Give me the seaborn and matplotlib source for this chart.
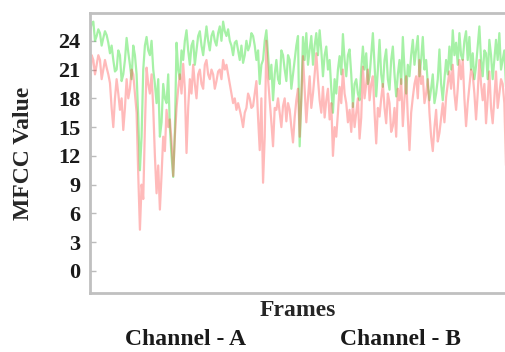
import numpy as np
import pandas as pd
import matplotlib
matplotlib.use("Agg")
import matplotlib.pyplot as plt
import seaborn as sns

channel_a = [25.0, 25.8, 26.0, 24.0, 24.5, 25.2, 24.8, 23.5, 24.3, 25.0,
             24.6, 23.8, 22.7, 23.5, 22.0, 20.8, 21.0, 23.0, 22.5, 19.8,
             20.5, 22.0, 24.3, 22.8, 21.5, 20.0, 23.5, 22.5, 20.5, 16.0,
             10.5, 14.0, 21.0, 23.5, 24.4, 23.0, 22.5, 24.0, 21.0, 19.5,
             17.5, 20.0, 14.0, 15.5, 19.5, 18.0, 17.5, 20.5, 15.0, 12.0,
             9.8, 14.5, 23.8, 21.0, 20.0, 23.0, 22.0, 24.0, 25.1, 23.0,
             21.5, 23.5, 24.0, 21.5, 23.0, 24.5, 25.0, 23.5, 22.5, 24.0,
             25.5, 24.0, 23.0, 24.5, 25.0, 24.0, 23.5, 24.8, 25.5, 24.0,
             26.0, 25.0, 24.5, 25.2, 24.0, 23.5, 22.5, 23.8, 24.0, 23.0,
             22.0, 23.5, 21.7, 22.5, 24.0, 23.0, 23.5, 24.8, 24.5, 23.5,
             22.0, 23.0, 19.5, 21.5, 22.0, 24.0, 25.1, 22.5, 20.0, 21.5,
             17.8, 20.5, 22.0, 20.0, 19.5, 23.0, 22.5, 21.0, 19.8, 22.5,
             22.0, 19.0, 20.5, 22.0, 23.5, 24.5, 13.0, 18.0, 24.4, 22.0,
             24.8, 21.5, 23.1, 24.5, 21.5, 23.5, 24.8, 22.5, 25.1, 23.0,
             20.3, 22.5, 23.4, 21.0, 22.0, 19.0, 16.5, 20.0, 18.5, 21.0,
             22.4, 20.5, 24.7, 22.0, 20.3, 22.5, 23.1, 20.5, 17.1, 19.5,
             20.0, 18.5, 17.8, 21.0, 23.4, 21.0, 22.7, 19.5, 20.3, 22.5,
             24.8, 21.5, 18.2, 21.0, 24.1, 20.5, 19.2, 22.0, 23.1, 20.0,
             18.9, 22.0, 23.4, 20.5, 18.2, 20.5, 22.0, 19.5, 24.4, 21.0,
             18.5, 21.5, 20.3, 22.5, 24.1, 21.5, 23.1, 24.5, 20.3, 22.0,
             24.4, 21.0, 22.0, 19.5, 17.8, 19.0, 20.5, 17.5, 18.5, 20.0,
             23.1, 19.5, 17.8, 20.0, 22.0, 20.5, 23.4, 21.0, 25.1, 22.5,
             23.8, 21.5, 24.8, 22.5, 22.0, 24.0, 25.0, 22.0, 24.4, 21.0,
             22.7, 20.0, 21.4, 23.5, 25.5, 22.0, 20.3, 23.0, 22.7, 20.0,
             24.1, 22.5, 20.0, 22.0, 24.1, 22.0, 24.8, 21.0, 22.0, 23.0,
             19.2]

channel_b = [19.0, 22.5, 22.0, 20.5, 21.5, 22.5, 22.0, 20.0, 21.0, 22.0,
             21.2, 20.5, 19.6, 17.0, 15.0, 18.0, 20.0, 18.5, 16.8, 18.0,
             14.7, 17.0, 20.0, 18.0, 19.0, 21.0, 20.5, 18.5, 16.5, 10.0,
             4.3, 9.0, 7.5, 15.0, 21.2, 19.5, 18.5, 20.5, 17.0, 12.0,
             8.1, 11.0, 6.4, 10.0, 14.0, 12.5, 16.8, 15.0, 15.8, 13.5,
             9.9, 14.0, 17.0, 19.0, 20.5, 18.5, 21.6, 19.0, 12.3, 17.0,
             20.0, 18.5, 21.5, 19.5, 18.0, 20.5, 21.0, 19.5, 19.0, 21.5,
             22.0, 20.5, 20.0, 21.0, 20.5, 19.0, 19.8, 20.8, 21.0, 20.0,
             22.0, 21.0, 21.5, 20.5, 19.5, 18.5, 17.5, 18.0, 16.8, 17.5,
             16.8, 16.0, 15.0, 16.5, 17.0, 18.5, 18.0, 17.0, 17.2, 18.5,
             19.8, 16.0, 12.6, 18.0, 9.2, 14.0, 24.0, 20.0, 17.8, 15.5,
             13.0, 17.0, 16.8, 18.0, 16.5, 15.0, 17.2, 18.0, 15.6, 17.5,
             16.8, 15.0, 13.4, 16.0, 17.8, 19.0, 14.0, 18.0, 22.4, 19.0,
             15.5, 18.0, 20.3, 17.0, 18.5, 20.5, 22.7, 20.0, 17.8, 16.5,
             19.2, 16.0, 17.8, 19.0, 15.8, 17.5, 12.0, 15.0, 14.0, 16.5,
             19.2, 17.5, 21.0, 18.5, 17.5, 15.5, 16.8, 14.5, 17.5, 15.0,
             16.5, 18.0, 13.8, 16.0, 21.3, 18.0, 19.5, 21.0, 17.8, 19.5,
             20.3, 16.5, 13.3, 17.0, 16.1, 18.0, 19.5, 17.0, 15.4, 18.5,
             17.5, 14.5, 15.1, 17.0, 14.0, 19.0, 17.8, 20.0, 15.1, 18.0,
             20.3, 16.0, 12.6, 16.5, 18.1, 19.5, 20.3, 18.0, 22.0, 19.5,
             20.3, 17.5, 18.5, 20.0, 16.5, 14.0, 12.5, 15.0, 16.8, 13.5,
             14.4, 16.0, 17.5, 15.5, 18.1, 19.5, 20.8, 19.0, 21.5, 18.5,
             16.8, 19.0, 22.0, 20.0, 22.0, 18.0, 15.1, 17.5, 19.2, 21.0,
             20.5, 18.5, 15.8, 18.5, 22.0, 19.5, 17.8, 19.5, 15.4, 18.0,
             20.8, 17.0, 15.4, 18.0, 20.8, 17.0, 18.5, 20.0, 19.5, 17.5,
             11.0]

labels = ["Channel - A", "Channel - B"]
yticks = [0, 3, 6, 9, 12, 15, 18, 21, 24]

frames = np.arange(len(channel_a))
df = pd.DataFrame({
    "Frames": np.concatenate([frames, frames]),
    "MFCC Value": channel_a + channel_b,
    "Channel": [labels[0]] * len(channel_a) + [labels[1]] * len(channel_b),
})

sns.set_style("white")
plt.rcParams["font.family"] = ["Liberation Serif", "DejaVu Serif"]
plt.rcParams["font.weight"] = "bold"
plt.rcParams["text.color"] = "#1a1a1a"

fig = plt.figure(figsize=(5.06, 3.52), dpi=100)
ax = fig.add_axes([90/506, 1-293/352, 1-90/506, (293-13)/352])

sns.lineplot(data=df[df.Channel == labels[0]], x="Frames", y="MFCC Value",
             color="#22dd22", alpha=0.4, lw=1.6, ax=ax, label=labels[0])
sns.lineplot(data=df[df.Channel == labels[1]], x="Frames", y="MFCC Value",
             color="#ff2a2a", alpha=0.32, lw=1.6, ax=ax, label=labels[1])

ax.set_xlim(0, len(channel_a) - 1)
ax.set_ylim(-2.3, 26.9)
ax.set_xticks([])
ax.set_yticks(yticks)
ax.set_yticklabels([str(t) for t in yticks], fontsize=16, fontweight="bold", color="#1a1a1a")
ax.tick_params(axis="y", direction="in", length=4, width=1, color="#bbbbbb", pad=7, left=True)
for s in ["top", "left", "bottom"]:
    ax.spines[s].set_color("#c0c0c0")
    ax.spines[s].set_linewidth(2)
ax.spines["right"].set_visible(False)

ax.set_xlabel("Frames", fontsize=17, fontweight="bold", labelpad=5)
ax.set_ylabel("MFCC Value", fontsize=17, fontweight="bold", labelpad=17)

leg = ax.legend(loc="center", bbox_to_anchor=(293/506, 1-339/352),
                bbox_transform=fig.transFigure, ncol=2, frameon=False,
                handlelength=0, handletextpad=0, columnspacing=4.0,
                borderpad=0, prop={"size": 17, "weight": "bold"})
for h in leg.legend_handles:
    h.set_visible(False)

fig.savefig("out.png", dpi=100)
